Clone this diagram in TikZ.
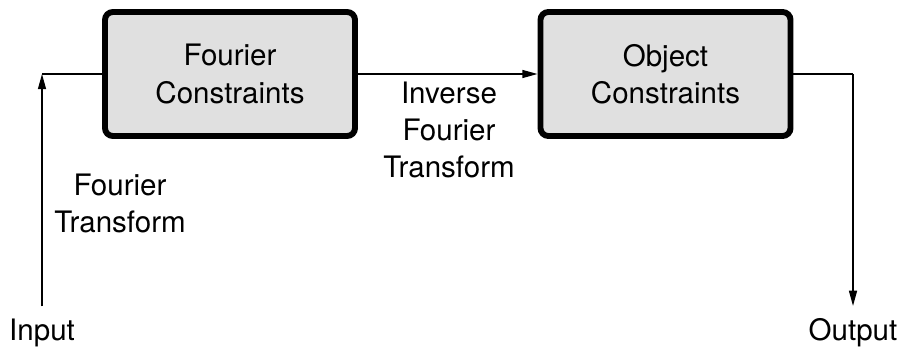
\documentclass[tikz,border=0pt]{standalone}
\usepackage{fontspec}
\setmainfont{TeX Gyre Heros}
\usetikzlibrary{arrows.meta}

\tikzset{
	block/.style={draw=black, line width=4.2pt, fill=black!12, rounded corners=0.2cm,
		minimum width=6.25cm, minimum height=3.1cm, align=center},
	lbl/.style={align=center, inner sep=0pt},
	io/.style={inner sep=0pt, outer sep=0.3cm},
	flow/.style={line width=1pt, -{Triangle[length=0.38cm,width=0.2cm]}},
	stub/.style={line width=1.5pt}
}

\begin{document}
\begin{tikzpicture}[x=0.025cm, y=-0.025cm, font=\fontsize{21pt}{26.4pt}\selectfont]
		%%%%% START %%%%%
		\useasboundingbox (0, 0) rectangle (899, 347);
		
		\node[block] (fourier) at (230, 74) {Fourier\\Constraints};
		\node[block] (object) at (665.5, 74) {Object\\Constraints};
		
		\coordinate (incorner) at (42, 74);
		\coordinate (outcorner) at (853, 74);
		
		\node[io, anchor=base] (input) at (42, 340) {Input};
		\node[io, anchor=base] (output) at (853, 340) {Output};
		
		\node[lbl] (ft) at (120, 203.5) {Fourier\\Transform};
		\node[lbl] (ift) at (449, 130) {Inverse\\Fourier\\Transform};
		
		\draw[flow] (input.north) -- (incorner);
		\draw[stub] (incorner) -- (fourier.west);
		\draw[flow] (fourier.east) -- (object.west);
		\draw[stub] (object.east) -- (outcorner);
		\draw[flow] (outcorner) -- (output.north);
		%%%%% END %%%%%
	\end{tikzpicture}
\end{document}
